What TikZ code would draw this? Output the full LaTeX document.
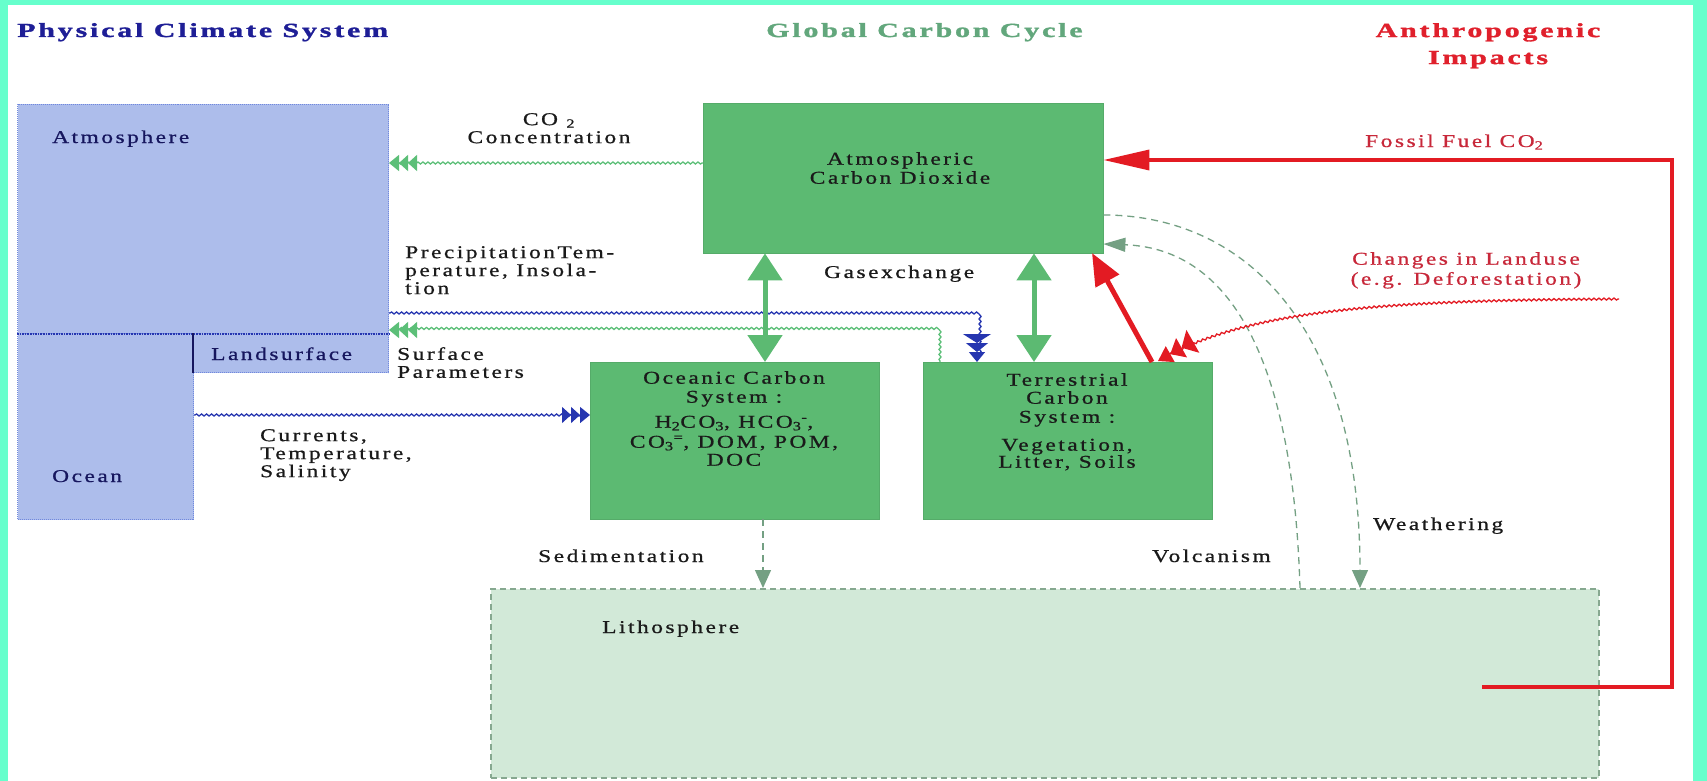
\documentclass[tikz,border=0pt]{standalone}
\usepackage{fontspec}
\setmainfont{Liberation Serif}[FakeStretch=1.3,LetterSpace=14,FakeBold=0.8]
\newfontfamily\ttlfont{Liberation Serif}[FakeStretch=1.5,LetterSpace=14,FakeBold=1.5]
\usetikzlibrary{arrows.meta,decorations.pathmorphing}

\definecolor{frameaqua}{HTML}{66FFCC}
\definecolor{physfill}{HTML}{ADBDEB}
\definecolor{physedge}{HTML}{7088DD}
\definecolor{physline}{HTML}{2636B0}
\definecolor{navyink}{HTML}{16165E}
\definecolor{carbfill}{HTML}{5CBA72}
\definecolor{carbtitle}{HTML}{62A77C}
\definecolor{lithofill}{HTML}{D2E9D8}
\definecolor{lithoedge}{HTML}{86A890}
\definecolor{dashgreen}{HTML}{74A083}
\definecolor{wavegreen}{HTML}{5CBF78}
\definecolor{anthred}{HTML}{E31B23}
\definecolor{redtext}{HTML}{C8283A}
\definecolor{ttlblue}{HTML}{1E1E96}
\definecolor{ttlred}{HTML}{E0202C}
\definecolor{ink}{HTML}{1A1A1A}

\newcommand{\lblfont}{\fontsize{18}{18}\selectfont}
\newcommand{\headfont}{\ttlfont\bfseries\fontsize{20}{27}\selectfont}

\tikzset{
  physbox/.style={draw=physedge, densely dotted, fill=physfill, anchor=north west, inner sep=0pt, line width=1pt},
  carbbox/.style={draw=carbfill!92!black, fill=carbfill, anchor=north west, inner sep=0pt},
  lithobox/.style={draw=lithoedge, dash pattern=on 6pt off 4pt, line width=1.5pt, fill=lithofill, anchor=north west, inner sep=0pt},
  lbl/.style={inner sep=0pt, font=\lblfont, text=ink},
  boxtext/.style={lbl, align=center, anchor=north},
  headline/.style={inner sep=0pt, font=\headfont},
  wavy/.style={decorate, decoration={snake, amplitude=1pt, segment length=5pt, pre length=1pt, post length=3pt}, line width=1.3pt},
  bluewave/.style={wavy, draw=physline},
  greenwave/.style={wavy, draw=wavegreen},
  gasflow/.style={draw=carbfill, line width=5pt, {Triangle[length=27pt,width=34pt]}-{Triangle[length=27pt,width=34pt]}},
  slowflow/.style={draw=dashgreen, line width=1.3pt, dash pattern=on 7pt off 5pt},
  smalltree/.tip={Triangle[length=9pt,width=16pt] Triangle[length=9pt,width=16pt] Triangle[length=10pt,width=16pt]},
  bluetree/.tip={Triangle[length=9pt,width=28pt] Triangle[length=9pt,width=22pt] Triangle[length=10pt,width=16pt]},
  redtree/.tip={Triangle[length=13pt,width=26pt] Triangle[length=13pt,width=22pt] Triangle[length=14pt,width=18pt]},
}

\begin{document}
\begin{tikzpicture}[x=1pt,y=-1pt]
    \useasboundingbox (0,0) rectangle (1707,781);
    \fill[frameaqua] (0,0) rectangle (1707,781);
    \fill[white] (8,5) rectangle (1693,781);

    % column headings
    \node[headline, text=ttlblue, anchor=base west] (physttl) at (17,37) {Physical Climate System};
    \node[headline, text=carbtitle, anchor=base west] (carbttl) at (766,37) {Global Carbon Cycle};
    \node[headline, text=ttlred, align=center, anchor=north] (anthttl) at (1488,23) {Anthropogenic\\Impacts};

    % physical climate system
    \node[physbox, minimum width=371pt, minimum height=229pt] (atmos) at (17,104) {};
    \node[physbox, minimum width=176pt, minimum height=186pt] (ocean) at (17,333) {};
    \node[physbox, minimum width=195pt, minimum height=39pt] (landsurf) at (193,333) {};
    \draw[physline, densely dotted, line width=1.6pt] (atmos.south west) -- (atmos.south east);
    \draw[navyink, line width=2pt] (landsurf.north west) -- (landsurf.south west);
    \node[lbl, text=navyink, anchor=base west] (atmoslbl) at (52,143) {Atmosphere};
    \node[lbl, text=navyink, anchor=base west] (landlbl) at (211,360) {Landsurface};
    \node[lbl, text=navyink, anchor=base west] (oceanlbl) at (52,482) {Ocean};

    % carbon reservoirs
    \node[carbbox, minimum width=400pt, minimum height=150pt] (atmco2) at (703,103) {};
    \node[carbbox, minimum width=289pt, minimum height=157pt] (oceanic) at (590,362) {};
    \node[carbbox, minimum width=289pt, minimum height=157pt] (terr) at (923,362) {};
    \node[lithobox, minimum width=1108pt, minimum height=189pt] (litho) at (490,588) {};

    \node[boxtext] (atmco2txt) at (900,152) {Atmospheric\\[1pt]Carbon Dioxide};
    \node[boxtext] (oceanictxt) at (734,371) {Oceanic Carbon\\[1pt]System :\\[7pt]H\textsubscript{2}CO\textsubscript{3}, HCO\textsubscript{3}\textsuperscript{-},\\[2pt]CO\textsubscript{3}\textsuperscript{=}, DOM, POM,\\DOC};
    \node[boxtext] (terrtxt) at (1067,373) {Terrestrial\\Carbon\\[1pt]System :\\[10pt]Vegetation,\\[-1pt]Litter, Soils};
    \node[lbl, anchor=base west] (litholbl) at (602,633) {Lithosphere};

    % fluxes between the systems
    \coordinate (co2y) at (0,163);
    \coordinate (precturn) at (977,313);
    \coordinate (sfturn) at (940,330);
    \coordinate (curry) at (0,415);
    \draw[greenwave, -{smalltree}] (atmco2.west |- co2y) -- (atmos.east |- co2y);
    \draw[bluewave, -{bluetree}] (atmos.east |- precturn) -- (precturn) -- (precturn |- terr.north);
    \draw[greenwave, -{smalltree}] (sfturn |- terr.north) -- (sfturn) -- (atmos.east |- sfturn);
    \draw[bluewave, -{smalltree}] (ocean.east |- curry) -- (oceanic.west |- curry);

    \node[lbl, align=center, anchor=north] (co2lbl) at (549,113) {CO \textsubscript{2}\\Concentration};
    \node[lbl, align=left, anchor=north west] (preclbl) at (405,246) {PrecipitationTem-\\perature, Insola-\\tion};
    \node[lbl, align=left, anchor=north west] (sflbl) at (397,347) {Surface\\Parameters};
    \node[lbl, align=left, anchor=north west] (currlbl) at (260,429) {Currents,\\Temperature,\\Salinity};

    % gas exchange
    \coordinate (gasO) at (765,0);
    \coordinate (gasT) at (1034,0);
    \draw[gasflow] (gasO |- atmco2.south) -- (gasO |- oceanic.north);
    \draw[gasflow] (gasT |- atmco2.south) -- (gasT |- terr.north);
    \node[lbl, anchor=base west] (gaslbl) at (824,278) {Gasexchange};

    % exchange with the lithosphere
    \coordinate (sedx) at (763,0);
    \coordinate (weathy) at (0,215);
    \coordinate (volcy) at (0,244);
    \draw[slowflow, -{Triangle[length=18pt,width=16pt]}] (sedx |- oceanic.south) -- (sedx |- litho.north);
    \draw[slowflow, -{Triangle[length=18pt,width=16pt]}] (atmco2.east |- weathy) .. controls (1240,215) and (1360,320) .. (1360,588);
    \draw[slowflow, -{Triangle[length=22pt,width=14pt]}] (1300,588) .. controls (1292,330) and (1215,248) .. (atmco2.east |- volcy);
    \node[lbl, anchor=base west] (sedlbl) at (538,562) {Sedimentation};
    \node[lbl, anchor=base west] (volclbl) at (1152,562) {Volcanism};
    \node[lbl, anchor=base west] (weathlbl) at (1373,530) {Weathering};

    % anthropogenic impacts
    \coordinate (ffsrc) at (1482,687);
    \coordinate (ffcorner) at (1672,160);
    \coordinate (lusrc) at (1619,299);
    \draw[anthred, line width=3.5pt, -{Triangle[length=46pt,width=20pt]}] (ffsrc) -- (ffsrc -| ffcorner) -- (ffcorner) -- (atmco2.east |- ffcorner);
    \draw[anthred, line width=5pt, -{Triangle[length=32pt,width=26pt]}] (1152,362) -- (1092,253);
    \draw[anthred, wavy, -{redtree}] (lusrc) .. controls (1350,300) and (1240,315) .. (1158,361);
    \node[lbl, text=redtext, anchor=base west] (fflbl) at (1365,147) {Fossil Fuel CO\textsubscript{2}};
    \node[lbl, text=redtext, align=center, anchor=north] (lulbl) at (1466,252) {Changes in Landuse\\[2pt](e.g. Deforestation)};
\end{tikzpicture}
\end{document}
